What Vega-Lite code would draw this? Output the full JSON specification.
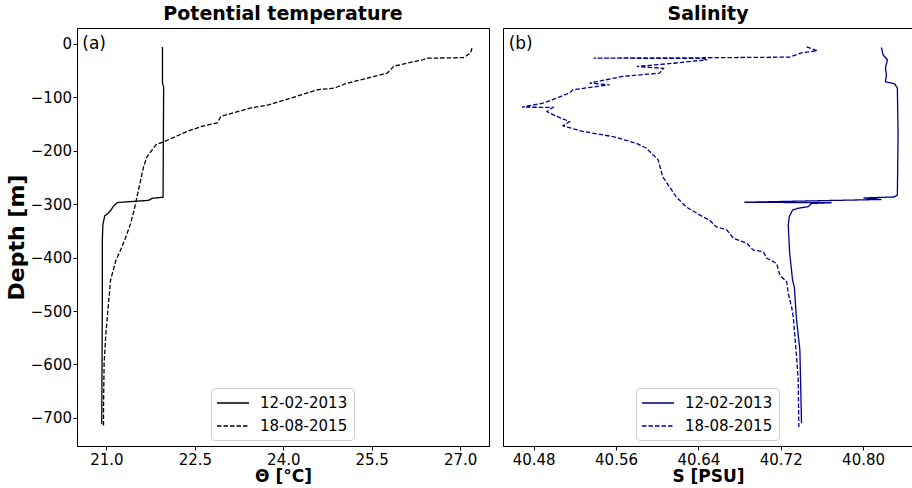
{
  "$schema": "https://vega.github.io/schema/vega-lite/v6.json",
  "padding": {"left": 4, "top": 4, "right": 0, "bottom": 0},
  "spacing": 12,
  "config": {
    "font": "DejaVu Sans",
    "view": {"stroke": "black", "strokeWidth": 1},
    "axis": {"grid": false, "tickColor": "black", "tickSize": 4, "labelPadding": 2, "labelFontSize": 15, "labelColor": "black", "titleFontSize": 17, "titleFontWeight": "bold", "titleColor": "black", "domainColor": "black", "titlePadding": 1},
    "axisY": {"titleFontSize": 22, "titlePadding": 2, "labelPadding": 1.5},
    "title": {"fontSize": 19, "fontWeight": "bold", "offset": 4, "baseline": "alphabetic", "anchor": "middle", "color": "black"},
    "legend": {"orient": "none", "title": null, "symbolType": "M-2,0H2", "symbolSize": 256, "symbolStrokeWidth": 1.3, "symbolOffset": 7, "labelOffset": 18, "labelFontSize": 15, "labelColor": "black", "padding": 6, "rowPadding": 6, "strokeColor": "#cccccc", "fillColor": "white", "cornerRadius": 4, "legendY": 360}
  },
  "datasets": {
    "theta": [
      {"T": 21.95, "D": -6, "date": "12-02-2013"},
      {"T": 21.95, "D": -74, "date": "12-02-2013"},
      {"T": 21.97, "D": -80, "date": "12-02-2013"},
      {"T": 21.96, "D": -287, "date": "12-02-2013"},
      {"T": 21.78, "D": -289, "date": "12-02-2013"},
      {"T": 21.71, "D": -293, "date": "12-02-2013"},
      {"T": 21.44, "D": -295, "date": "12-02-2013"},
      {"T": 21.19, "D": -297, "date": "12-02-2013"},
      {"T": 21.13, "D": -302, "date": "12-02-2013"},
      {"T": 21.07, "D": -312, "date": "12-02-2013"},
      {"T": 21.02, "D": -318, "date": "12-02-2013"},
      {"T": 20.97, "D": -322, "date": "12-02-2013"},
      {"T": 20.94, "D": -338, "date": "12-02-2013"},
      {"T": 20.93, "D": -365, "date": "12-02-2013"},
      {"T": 20.93, "D": -480, "date": "12-02-2013"},
      {"T": 20.92, "D": -712, "date": "12-02-2013"},
      {"T": 27.2, "D": -8, "date": "18-08-2015"},
      {"T": 27.18, "D": -17, "date": "18-08-2015"},
      {"T": 27.06, "D": -26, "date": "18-08-2015"},
      {"T": 26.44, "D": -27, "date": "18-08-2015"},
      {"T": 26.36, "D": -30, "date": "18-08-2015"},
      {"T": 25.87, "D": -42, "date": "18-08-2015"},
      {"T": 25.82, "D": -49, "date": "18-08-2015"},
      {"T": 25.76, "D": -55, "date": "18-08-2015"},
      {"T": 25.08, "D": -74, "date": "18-08-2015"},
      {"T": 24.86, "D": -83, "date": "18-08-2015"},
      {"T": 24.58, "D": -86, "date": "18-08-2015"},
      {"T": 24.12, "D": -102, "date": "18-08-2015"},
      {"T": 23.73, "D": -115, "date": "18-08-2015"},
      {"T": 23.45, "D": -120, "date": "18-08-2015"},
      {"T": 22.94, "D": -136, "date": "18-08-2015"},
      {"T": 22.88, "D": -148, "date": "18-08-2015"},
      {"T": 22.6, "D": -155, "date": "18-08-2015"},
      {"T": 22.37, "D": -164, "date": "18-08-2015"},
      {"T": 21.98, "D": -183, "date": "18-08-2015"},
      {"T": 21.84, "D": -189, "date": "18-08-2015"},
      {"T": 21.69, "D": -211, "date": "18-08-2015"},
      {"T": 21.63, "D": -230, "date": "18-08-2015"},
      {"T": 21.58, "D": -255, "date": "18-08-2015"},
      {"T": 21.53, "D": -280, "date": "18-08-2015"},
      {"T": 21.47, "D": -311, "date": "18-08-2015"},
      {"T": 21.41, "D": -336, "date": "18-08-2015"},
      {"T": 21.33, "D": -361, "date": "18-08-2015"},
      {"T": 21.24, "D": -386, "date": "18-08-2015"},
      {"T": 21.16, "D": -405, "date": "18-08-2015"},
      {"T": 21.07, "D": -442, "date": "18-08-2015"},
      {"T": 21.02, "D": -504, "date": "18-08-2015"},
      {"T": 20.99, "D": -542, "date": "18-08-2015"},
      {"T": 20.96, "D": -598, "date": "18-08-2015"},
      {"T": 20.95, "D": -679, "date": "18-08-2015"},
      {"T": 20.95, "D": -717, "date": "18-08-2015"}
    ],
    "sal": [
      {"S": 40.8178, "D": -7, "date": "12-02-2013"},
      {"S": 40.8195, "D": -21, "date": "12-02-2013"},
      {"S": 40.8237, "D": -30, "date": "12-02-2013"},
      {"S": 40.8217, "D": -45, "date": "12-02-2013"},
      {"S": 40.8227, "D": -58, "date": "12-02-2013"},
      {"S": 40.8217, "D": -71, "date": "12-02-2013"},
      {"S": 40.8307, "D": -75, "date": "12-02-2013"},
      {"S": 40.8333, "D": -83, "date": "12-02-2013"},
      {"S": 40.834, "D": -170, "date": "12-02-2013"},
      {"S": 40.8333, "D": -283, "date": "12-02-2013"},
      {"S": 40.8304, "D": -286.6, "date": "12-02-2013"},
      {"S": 40.8004, "D": -288.5, "date": "12-02-2013"},
      {"S": 40.8178, "D": -291.3, "date": "12-02-2013"},
      {"S": 40.6847, "D": -296.5, "date": "12-02-2013"},
      {"S": 40.7693, "D": -297.4, "date": "12-02-2013"},
      {"S": 40.7499, "D": -298.7, "date": "12-02-2013"},
      {"S": 40.7467, "D": -304.7, "date": "12-02-2013"},
      {"S": 40.737, "D": -307.7, "date": "12-02-2013"},
      {"S": 40.7315, "D": -311, "date": "12-02-2013"},
      {"S": 40.7283, "D": -323.5, "date": "12-02-2013"},
      {"S": 40.7273, "D": -339, "date": "12-02-2013"},
      {"S": 40.7287, "D": -392, "date": "12-02-2013"},
      {"S": 40.7315, "D": -442, "date": "12-02-2013"},
      {"S": 40.7332, "D": -455, "date": "12-02-2013"},
      {"S": 40.7354, "D": -517, "date": "12-02-2013"},
      {"S": 40.7386, "D": -573, "date": "12-02-2013"},
      {"S": 40.7402, "D": -710, "date": "12-02-2013"},
      {"S": 40.7451, "D": -6, "date": "18-08-2015"},
      {"S": 40.7555, "D": -13, "date": "18-08-2015"},
      {"S": 40.7402, "D": -17, "date": "18-08-2015"},
      {"S": 40.7289, "D": -25, "date": "18-08-2015"},
      {"S": 40.6449, "D": -26.2, "date": "18-08-2015"},
      {"S": 40.5382, "D": -26.8, "date": "18-08-2015"},
      {"S": 40.6449, "D": -27.5, "date": "18-08-2015"},
      {"S": 40.6474, "D": -30, "date": "18-08-2015"},
      {"S": 40.6183, "D": -36, "date": "18-08-2015"},
      {"S": 40.5802, "D": -42.5, "date": "18-08-2015"},
      {"S": 40.6061, "D": -46, "date": "18-08-2015"},
      {"S": 40.6022, "D": -55, "date": "18-08-2015"},
      {"S": 40.5666, "D": -61, "date": "18-08-2015"},
      {"S": 40.5343, "D": -73.6, "date": "18-08-2015"},
      {"S": 40.5537, "D": -76.8, "date": "18-08-2015"},
      {"S": 40.5181, "D": -86, "date": "18-08-2015"},
      {"S": 40.5149, "D": -92, "date": "18-08-2015"},
      {"S": 40.5019, "D": -102, "date": "18-08-2015"},
      {"S": 40.489, "D": -111, "date": "18-08-2015"},
      {"S": 40.4687, "D": -118.6, "date": "18-08-2015"},
      {"S": 40.4987, "D": -119, "date": "18-08-2015"},
      {"S": 40.4929, "D": -127, "date": "18-08-2015"},
      {"S": 40.5026, "D": -136, "date": "18-08-2015"},
      {"S": 40.5149, "D": -145.5, "date": "18-08-2015"},
      {"S": 40.5084, "D": -153.6, "date": "18-08-2015"},
      {"S": 40.5278, "D": -164, "date": "18-08-2015"},
      {"S": 40.5569, "D": -173.6, "date": "18-08-2015"},
      {"S": 40.5795, "D": -186, "date": "18-08-2015"},
      {"S": 40.5892, "D": -195, "date": "18-08-2015"},
      {"S": 40.6009, "D": -217, "date": "18-08-2015"},
      {"S": 40.6054, "D": -249, "date": "18-08-2015"},
      {"S": 40.6183, "D": -286, "date": "18-08-2015"},
      {"S": 40.628, "D": -305, "date": "18-08-2015"},
      {"S": 40.6442, "D": -323.5, "date": "18-08-2015"},
      {"S": 40.651, "D": -330, "date": "18-08-2015"},
      {"S": 40.6571, "D": -342, "date": "18-08-2015"},
      {"S": 40.6675, "D": -348, "date": "18-08-2015"},
      {"S": 40.674, "D": -364, "date": "18-08-2015"},
      {"S": 40.6869, "D": -373, "date": "18-08-2015"},
      {"S": 40.6934, "D": -386, "date": "18-08-2015"},
      {"S": 40.7031, "D": -389, "date": "18-08-2015"},
      {"S": 40.7063, "D": -401, "date": "18-08-2015"},
      {"S": 40.716, "D": -411, "date": "18-08-2015"},
      {"S": 40.7192, "D": -433, "date": "18-08-2015"},
      {"S": 40.7257, "D": -445, "date": "18-08-2015"},
      {"S": 40.7273, "D": -467, "date": "18-08-2015"},
      {"S": 40.7305, "D": -492, "date": "18-08-2015"},
      {"S": 40.7322, "D": -511, "date": "18-08-2015"},
      {"S": 40.7354, "D": -586, "date": "18-08-2015"},
      {"S": 40.737, "D": -629, "date": "18-08-2015"},
      {"S": 40.7376, "D": -717, "date": "18-08-2015"}
    ]
  },
  "hconcat": [
    {
      "width": 412,
      "height": 418,
      "title": {"text": "Potential temperature"},
      "layer": [
        {
          "data": {"name": "theta"},
          "mark": {"type": "line", "strokeWidth": 1.3, "color": "black"},
          "encoding": {
            "x": {"field": "T", "type": "quantitative", "scale": {"domain": [20.5, 27.49], "nice": false, "zero": false}, "axis": {"values": [21, 22.5, 24, 25.5, 27], "format": ".1f", "title": "Θ [°C]"}},
            "y": {"field": "D", "type": "quantitative", "scale": {"domain": [-752.5, 29.5], "nice": false, "zero": false}, "axis": {"values": [0, -100, -200, -300, -400, -500, -600, -700], "format": "d", "title": "Depth [m]"}},
            "strokeDash": {"field": "date", "type": "nominal", "scale": {"domain": ["12-02-2013", "18-08-2015"], "range": [[1, 0], [4.5, 2]]}, "legend": {"legendX": 134, "symbolStrokeColor": "black"}},
            "order": {"value": null}
          }
        },
        {
          "data": {"values": [{"T": 20.59, "D": 0, "lab": "(a)"}]},
          "mark": {"type": "text", "align": "left", "baseline": "middle", "fontSize": 17, "color": "black"},
          "encoding": {
            "x": {"field": "T", "type": "quantitative"},
            "y": {"field": "D", "type": "quantitative"},
            "text": {"field": "lab"}
          }
        }
      ]
    },
    {
      "width": 410,
      "height": 418,
      "title": {"text": "Salinity"},
      "layer": [
        {
          "data": {"name": "sal"},
          "mark": {"type": "line", "strokeWidth": 1.3, "color": "#00008b"},
          "encoding": {
            "x": {"field": "S", "type": "quantitative", "scale": {"domain": [40.4502, 40.8485], "nice": false, "zero": false}, "axis": {"values": [40.48, 40.56, 40.64, 40.72, 40.8], "format": ".2f", "title": "S [PSU]"}},
            "y": {"field": "D", "type": "quantitative", "scale": {"domain": [-752.5, 29.5], "nice": false, "zero": false}, "axis": null},
            "strokeDash": {"field": "date", "type": "nominal", "scale": {"domain": ["12-02-2013", "18-08-2015"], "range": [[1, 0], [4.5, 2]]}, "legend": {"legendX": 133, "symbolStrokeColor": "#00008b"}},
            "order": {"value": null}
          }
        },
        {
          "data": {"values": [{"S": 40.4557, "D": 0, "lab": "(b)"}]},
          "mark": {"type": "text", "align": "left", "baseline": "middle", "fontSize": 17, "color": "black"},
          "encoding": {
            "x": {"field": "S", "type": "quantitative"},
            "y": {"field": "D", "type": "quantitative"},
            "text": {"field": "lab"}
          }
        }
      ]
    }
  ],
  "resolve": {"scale": {"x": "independent", "y": "independent", "strokeDash": "independent"}, "legend": {"strokeDash": "independent"}}
}
